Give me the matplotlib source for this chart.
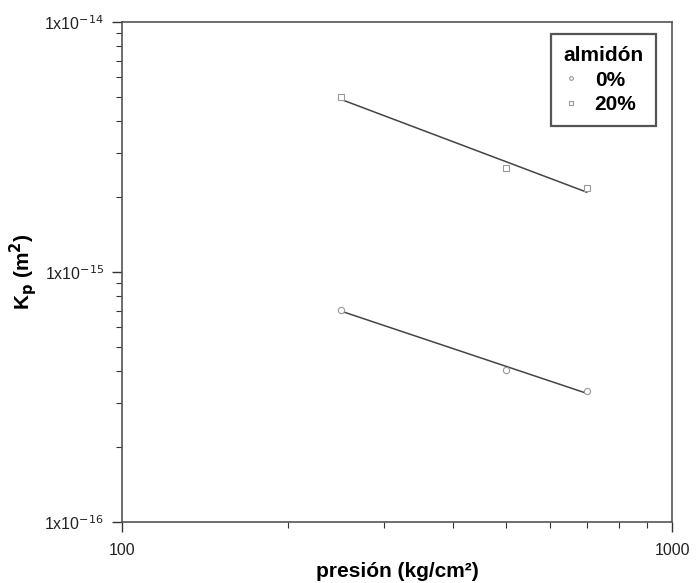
import numpy as np
import matplotlib
matplotlib.use("Agg")
import matplotlib.pyplot as plt
from matplotlib.ticker import FixedLocator, NullFormatter

plt.rcParams['font.family'] = ['Liberation Sans', 'DejaVu Sans']

presion = [250, 500, 700]
kp_0 = [7.05e-16, 4.06e-16, 3.34e-16]
kp_20 = [5.0e-15, 2.6e-15, 2.17e-15]
series_labels = ['0%', '20%']
xticks = [100, 1000]
xticklabels = ['100', '1000']
yticks = [1e-16, 1e-15, 1e-14]
yticklabels = [r'1x10$^{-16}$', r'1x10$^{-15}$', r'1x10$^{-14}$']

fig = plt.figure(figsize=(6.96, 5.83), dpi=100)
ax = fig.add_axes([122/696, 1-522/583, 550/696, 500/583])
ax.set_xscale('log')
ax.set_yscale('log')
ax.set_xlim(100, 1000)
ax.set_ylim(1e-16, 1e-14)

handles = []
for vals, mk, lab in [(kp_0, 'o', series_labels[0]), (kp_20, 's', series_labels[1])]:
    x = np.array(presion, float)
    y = np.array(vals, float)
    p = np.polyfit(np.log10(x), np.log10(y), 1)
    xf = np.array([x.min(), x.max()])
    ax.plot(xf, 10**np.polyval(p, np.log10(xf)), color='#444444', lw=1.1, zorder=2)
    h, = ax.plot(x, y, linestyle='none', marker=mk, ms=4.5, mfc='white', mec='#999999', mew=0.8, zorder=3, label=lab)
    handles.append(h)

ax.xaxis.set_major_locator(FixedLocator(xticks))
ax.set_xticklabels(xticklabels)
ax.xaxis.set_minor_locator(FixedLocator([200, 300, 400, 500, 600, 700, 800, 900]))
ax.xaxis.set_minor_formatter(NullFormatter())
ax.yaxis.set_major_locator(FixedLocator(yticks))
ax.set_yticklabels(yticklabels)
ax.yaxis.set_minor_locator(FixedLocator([k*m for m in (1e-16, 1e-15) for k in range(2, 10)]))
ax.yaxis.set_minor_formatter(NullFormatter())

ax.tick_params(axis='both', which='major', direction='out', length=7, width=1.0, colors='#333333', labelsize=11.5, labelcolor='#222222')
ax.tick_params(axis='both', which='minor', direction='out', length=4, width=0.8, colors='#333333')
ax.tick_params(axis='x', which='major', pad=8)
ax.tick_params(axis='y', which='major', pad=6)
for s in ax.spines.values():
    s.set_color('#555555')
    s.set_linewidth(1.2)

ax.set_xlabel('presión (kg/cm²)', fontsize=15, fontweight='bold', labelpad=3)
ax.set_ylabel(r'K$_\mathbf{p}$ (m$^\mathbf{2}$)', fontsize=15, fontweight='bold', labelpad=4)

leg = ax.legend(handles=handles, labels=series_labels, title='almidón', loc='upper right',
                bbox_to_anchor=(0.99, 0.997), fancybox=False, framealpha=1, edgecolor='#555555',
                prop={'weight': 'bold', 'size': 15}, title_fontproperties={'weight': 'bold', 'size': 15},
                handlelength=0.7, handletextpad=0.8, borderpad=0.6, labelspacing=0.25, markerscale=0.6,
                alignment='left')
leg.get_frame().set_linewidth(1.6)

fig.savefig('out.png', dpi=100)
